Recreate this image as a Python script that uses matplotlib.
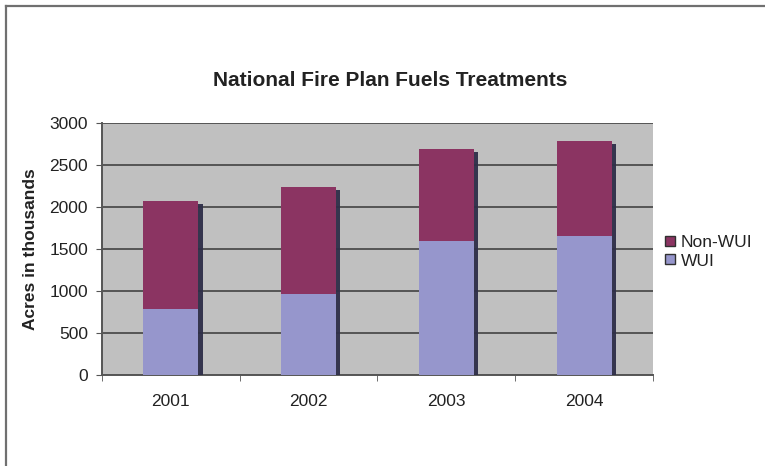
import numpy as np
import matplotlib.pyplot as plt
import matplotlib.patheffects as pe
from matplotlib.lines import Line2D

plt.rcParams['font.family'] = ['Liberation Sans', 'DejaVu Sans']

# Fuels treatments by fiscal year (thousands of acres)
years = ['2001', '2002', '2003', '2004']
wui = [780, 970, 1600, 1660]
non_wui = [1290, 1270, 1090, 1120]

wui_color = '#9696cc'
non_wui_color = '#8b3462'

fig = plt.figure(figsize=(7.65, 4.66), dpi=100)
ax = fig.add_axes([0.1333, 0.1953, 0.7203, 0.5408])
ax.set_facecolor('#c0c0c0')

x = np.arange(len(years))
totals = [w + n for w, n in zip(wui, non_wui)]

# one drop shadow behind each whole stack
shadow = ax.bar(x, totals, width=0.4, color='#c0c0c0', linewidth=0, zorder=2.9)
for p in shadow:
    p.set_path_effects([pe.SimplePatchShadow(offset=(3, -2), shadow_rgbFace='#2e2e48', alpha=0.95)])

ax.bar(x, wui, width=0.4, color=wui_color, linewidth=0, zorder=3)
ax.bar(x, non_wui, bottom=wui, width=0.4, color=non_wui_color, linewidth=0, zorder=3)

ax.set_xlim(-0.5, len(years) - 0.5)
ax.set_ylim(0, 3000)
ax.set_yticks(np.arange(0, 3001, 500))
ax.yaxis.grid(True, color='#555555', linewidth=1.4, zorder=1)
ax.set_axisbelow(True)

ax.set_xticks(x)
ax.set_xticklabels(years, fontsize=12.5, color='#222222')
ax.set_xticks(np.arange(-0.5, len(years)), minor=True)
ax.tick_params(axis='x', which='major', length=0, pad=14)
ax.tick_params(axis='x', which='minor', length=4, color='#555555', direction='out')
ax.tick_params(axis='y', length=4, color='#555555', labelsize=12.5, labelcolor='#222222', pad=6)

for side in ('top', 'right'):
    ax.spines[side].set_visible(False)
for side in ('left', 'bottom'):
    ax.spines[side].set_color('#555555')
    ax.spines[side].set_linewidth(1.4)

ax.set_ylabel('Acres in thousands', fontsize=12.5, fontweight='bold', labelpad=8, color='#222222')
fig.text(0.51, 0.828, 'National Fire Plan Fuels Treatments', ha='center', va='center',
         fontsize=15, fontweight='bold', color='#222222')

handles = [Line2D([], [], marker='s', linestyle='', markersize=7, markerfacecolor=non_wui_color,
                  markeredgecolor='#303030'),
           Line2D([], [], marker='s', linestyle='', markersize=7, markerfacecolor=wui_color,
                  markeredgecolor='#303030')]
fig.legend(handles, ['Non-WUI', 'WUI'], loc='center left', bbox_to_anchor=(0.858, 0.46),
           frameon=False, fontsize=12.5, handlelength=0.8, handletextpad=0.2, labelspacing=0.2,
           borderaxespad=0, labelcolor='#222222')

# frame lines along the top and left edges
fig.add_artist(Line2D([6.5 / 765, 1], [1 - 5.5 / 466, 1 - 5.5 / 466], color='#707070', linewidth=1.6))
fig.add_artist(Line2D([6.5 / 765, 6.5 / 765], [0, 1 - 5.5 / 466], color='#707070', linewidth=1.6))

fig.savefig('out.png', dpi=100)
